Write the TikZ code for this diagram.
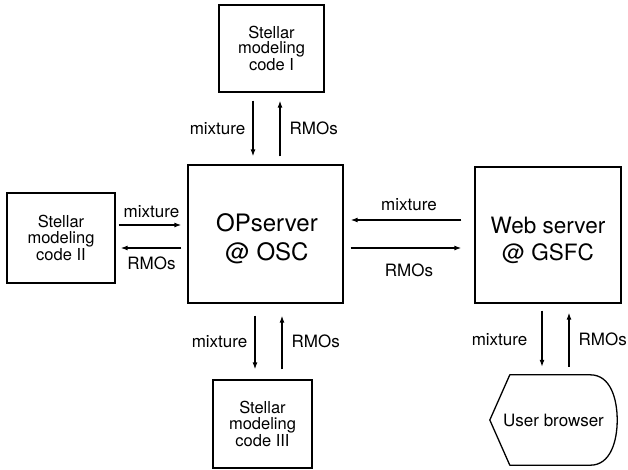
\documentclass[tikz,border=0pt]{standalone}
\usepackage{fontspec}
\setmainfont{TeX Gyre Heros}
\usetikzlibrary{arrows.meta,calc}
\tikzset{
  box/.style={draw,line width=1.3pt,rectangle,inner sep=0pt,align=center},
  codetext/.style={font=\fontsize{16.5}{15.5}\selectfont},
  optextstyle/.style={font=\fontsize{24}{29}\selectfont,align=center},
  webtextstyle/.style={font=\fontsize{22.5}{27}\selectfont,align=center},
  lbl/.style={font=\fontsize{17}{20}\selectfont,inner sep=0pt},
  arr/.style={line width=1.3pt,-{Latex[length=7pt,width=5pt]}},
}
\begin{document}
\begin{tikzpicture}[x=1pt,y=-1pt]
\useasboundingbox (0,0) rectangle (628,469);
% nodes
\node[box,codetext,minimum width=105pt,minimum height=87pt] (c1) at (271.5,48.5) {Stellar\\modeling\\code I};
\node[box,minimum width=155pt,minimum height=138pt,
      label={[name=optext,optextstyle,xshift=1.5pt,yshift=-5pt]center:OPserver\\@ OSC}] (op) at (265.5,234) {};
\node[box,codetext,minimum width=108pt,minimum height=90pt] (c2) at (61,238) {Stellar\\modeling\\code II};
\node[box,minimum width=146pt,minimum height=136pt,
      label={[name=webtext,webtextstyle,yshift=-5pt]center:Web server\\@ GSFC}] (web) at (548,235) {};
\node[box,codetext,minimum width=99pt,minimum height=88pt] (c3) at (262.5,424) {Stellar\\modeling\\code III};
\node[lbl,minimum width=127pt,minimum height=90pt] (ub) at (553.5,420) {User browser};
\draw[line width=1.3pt,line join=round] (ub.west) -- ([xshift=20pt]ub.north west) -- ([xshift=-27pt]ub.north east)
  to[out=0,in=90] (ub.east) to[out=-90,in=0] ([xshift=-27pt]ub.south east) -- ([xshift=20pt]ub.south west) -- cycle;
% top arrows
\draw[arr,shorten <=8pt,shorten >=8pt] ([xshift=-18.5pt]c1.south) -- ([xshift=-18.5pt]c1.south |- op.north)
  node[lbl,midway,left=7pt] (l1) {mixture};
\draw[arr,shorten <=8pt,shorten >=8pt] ([xshift=8.5pt]c1.south |- op.north) -- ([xshift=8.5pt]c1.south)
  node[lbl,midway,right=9pt] (l2) {RMOs};
% left arrows
\draw[arr,shorten <=3pt,shorten >=6pt] ([yshift=13pt]c2.east) -- ([yshift=13pt]c2.east -| op.west)
  node[lbl,midway,above=7pt] (l3) {mixture};
\draw[arr,shorten <=6pt,shorten >=5pt] ([yshift=-10pt]c2.east -| op.west) -- ([yshift=-10pt]c2.east)
  node[lbl,midway,below=8pt] (l4) {RMOs};
% right arrows
\draw[arr,shorten <=13pt,shorten >=7pt] ([yshift=15pt]web.west) -- ([yshift=15pt]web.west -| op.east)
  node[lbl,midway,above=9pt] (l5) {mixture};
\draw[arr,shorten <=7pt,shorten >=13pt] ([yshift=-13pt]web.west -| op.east) -- ([yshift=-13pt]web.west)
  node[lbl,midway,below=15pt] (l6) {RMOs};
% bottom arrows
\draw[arr,shorten <=12pt,shorten >=10pt] ([xshift=-10.5pt]op.south) -- ([xshift=-10.5pt]op.south |- c3.north)
  node[lbl,midway,left=7pt] (l7) {mixture};
\draw[arr,shorten <=10pt,shorten >=12pt] ([xshift=16.5pt]op.south |- c3.north) -- ([xshift=16.5pt]op.south)
  node[lbl,midway,right=9pt] (l8) {RMOs};
% web bottom arrows
\draw[arr,shorten <=7pt,shorten >=8pt] ([xshift=-6pt]web.south) -- ([xshift=-6pt]web.south |- ub.north)
  node[lbl,midway,left=14pt] (l9) {mixture};
\draw[arr,shorten <=8pt,shorten >=9pt] ([xshift=21pt]web.south |- ub.north) -- ([xshift=21pt]web.south)
  node[lbl,midway,right=9pt] (l10) {RMOs};
\end{tikzpicture}
\end{document}
